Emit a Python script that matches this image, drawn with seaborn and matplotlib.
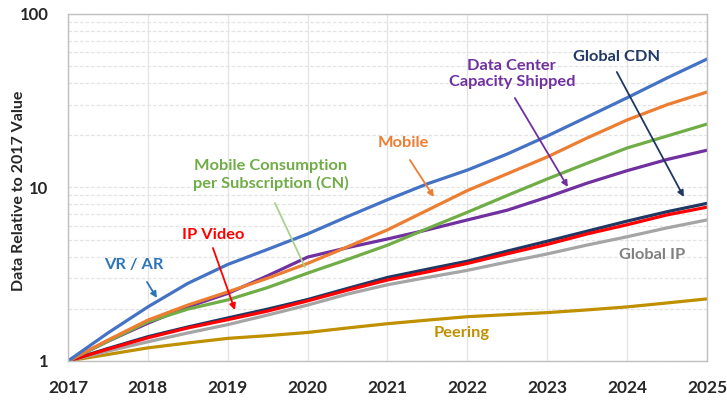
import numpy as np
import pandas as pd
import matplotlib
matplotlib.use("Agg")
import matplotlib.pyplot as plt
import seaborn as sns

years = [2017, 2017.5, 2018, 2018.5, 2019, 2019.5, 2020, 2020.5, 2021,
         2021.5, 2022, 2022.5, 2023, 2023.5, 2024, 2024.5, 2025]
tick_years = [2017, 2018, 2019, 2020, 2021, 2022, 2023, 2024, 2025]
vr_ar = [1.0, 1.45, 2.05, 2.8, 3.6, 4.4, 5.4, 6.8, 8.5, 10.5, 12.6, 15.6, 19.8, 25.5, 32.9, 42.8, 55.0]
mobile = [1.0, 1.32, 1.72, 2.1, 2.5, 3.0, 3.65, 4.55, 5.7, 7.4, 9.6, 12.0, 15.0, 19.3, 24.5, 30.0, 35.5]
mobile_cn = [1.0, 1.3, 1.68, 1.99, 2.25, 2.65, 3.21, 3.85, 4.65, 5.8, 7.2, 9.0, 11.2, 13.8, 16.9, 19.8, 23.2]
data_center = [1.0, 1.3, 1.65, 2.05, 2.45, 3.1, 3.97, 4.5, 5.05, 5.7, 6.5, 7.4, 8.8, 10.6, 12.5, 14.5, 16.4]
global_cdn = [1.0, 1.18, 1.38, 1.57, 1.77, 1.99, 2.26, 2.62, 3.03, 3.38, 3.76, 4.3, 4.9, 5.6, 6.4, 7.25, 8.1]
ip_video = [1.0, 1.17, 1.36, 1.55, 1.73, 1.94, 2.22, 2.56, 2.93, 3.26, 3.65, 4.15, 4.7, 5.4, 6.1, 6.95, 7.7]
global_ip = [1.0, 1.14, 1.29, 1.45, 1.62, 1.84, 2.1, 2.43, 2.75, 3.03, 3.33, 3.72, 4.14, 4.66, 5.2, 5.85, 6.5]
peering = [1.0, 1.09, 1.19, 1.27, 1.35, 1.40, 1.46, 1.55, 1.64, 1.72, 1.8, 1.85, 1.9, 1.97, 2.05, 2.16, 2.28]

series = [
    ("Peering", peering, "#BF9000"),
    ("Global IP", global_ip, "#A5A5A5"),
    ("Global CDN", global_cdn, "#1F3864"),
    ("IP Video", ip_video, "#FF0000"),
    ("Data Center Capacity Shipped", data_center, "#7030A0"),
    ("Mobile Consumption per Subscription (CN)", mobile_cn, "#70AD47"),
    ("Mobile", mobile, "#ED7D31"),
    ("VR / AR", vr_ar, "#4472C4"),
]

sns.set_style("white")
plt.rcParams['font.family'] = ['Lato', 'DejaVu Sans']
plt.rcParams['font.weight'] = 'bold'

fig = plt.figure(figsize=(7.27, 4.01), dpi=100)
ax = fig.add_axes([0.0935, 0.0998, 0.879, 0.8653])

for name, vals, col in series:
    df = pd.DataFrame({"year": years, "value": vals})
    sns.lineplot(data=df, x="year", y="value", color=col, lw=2.3, ax=ax)

ax.set_yscale("log")
ax.set_xlim(2017, 2025)
ax.set_ylim(1, 100)
ax.set_xticks(tick_years)
ax.set_xticklabels([str(y) for y in tick_years], fontsize=12.5, fontweight='bold')
ax.set_yticks([1, 10, 100])
ax.set_yticklabels(["1", "10", "100"], fontsize=12, fontweight='bold')
ax.yaxis.set_minor_locator(matplotlib.ticker.LogLocator(base=10, subs=np.arange(2, 10)))
ax.yaxis.set_minor_formatter(matplotlib.ticker.NullFormatter())
ax.tick_params(axis='x', length=0, pad=14)
ax.tick_params(axis='y', which='both', length=0, pad=14)
ax.grid(True, which='major', axis='x', color='#E4E4E4', lw=0.9)
ax.grid(True, which='both', axis='y', color='#E4E4E4', lw=0.9, ls=(0, (3, 1.5)))
for s in ax.spines.values():
    s.set_color('#BFBFBF')
    s.set_linewidth(1.0)
ax.set_xlabel("")
ax.set_ylabel("Data Relative to 2017 Value", fontsize=11.5, fontweight='bold')
ax.yaxis.set_label_coords(-0.066, 0.49)


def px2data(px, py):
    return (2017 + (px - 68) / 79.9, 10 ** ((361 - py) / 173.5))


def label(text, pos, color, start=None, tip=None, head=True, acolor=None):
    x, y = px2data(*pos)
    ax.text(x, y, text, color=color, fontsize=11.8, fontweight='bold',
            ha='center', va='center', linespacing=1.2)
    if start is not None:
        style = '-|>' if head else '-'
        ax.annotate("", xy=px2data(*tip), xytext=px2data(*start),
                    arrowprops=dict(arrowstyle=style, color=acolor or color,
                                    lw=1.3, mutation_scale=9, shrinkA=0, shrinkB=0))


label("VR / AR", (134, 265), "#2E75B6", (147, 282), (157, 298))
label("IP Video", (213, 235), "#FF0000", (213, 248), (235, 310))
label("Mobile Consumption\nper Subscription (CN)", (271, 175), "#70AD47",
      (275, 203), (305, 267), head=False, acolor="#A9D18E")
label("Mobile", (403, 143), "#ED7D31", (410, 160), (434, 197))
label("Data Center\nCapacity Shipped", (512, 74), "#7030A0", (515, 98), (568, 187))
label("Global CDN", (617, 57), "#1F3864", (617, 72), (684, 197))
label("Global IP", (652, 255), "#808080")
label("Peering", (462, 333), "#BF9000")

fig.savefig("out.png", dpi=100)
